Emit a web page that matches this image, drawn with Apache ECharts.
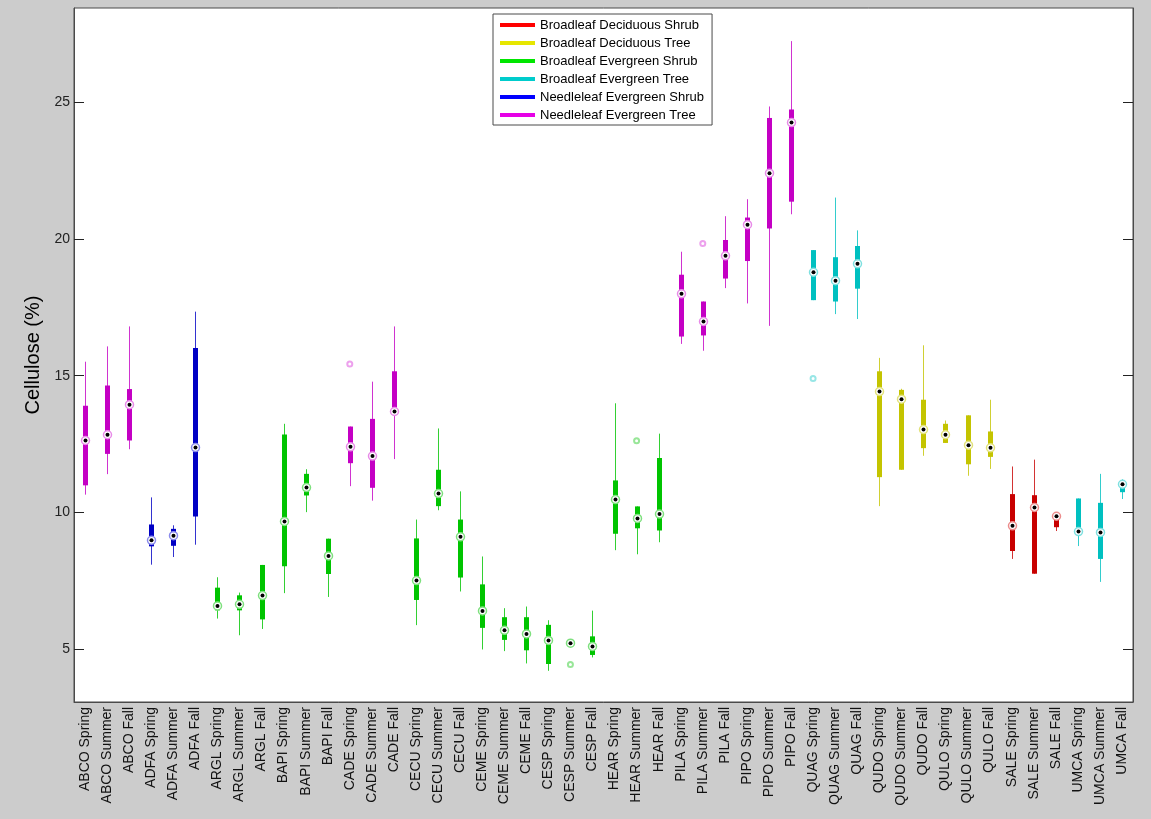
<!DOCTYPE html>
<html>
<head>
<meta charset="utf-8">
<script src="https://cdn.jsdelivr.net/npm/echarts@6/dist/echarts.min.js"></script>
<style>
  html, body { margin: 0; padding: 0; background: #cccccc; }
  #chart { width: 1151px; height: 819px; }
</style>
</head>
<body>
<div id="chart"></div>
<script>
// Species / season combinations along the x axis
const categories = [
  'ABCO Spring', 'ABCO Summer', 'ABCO Fall',
  'ADFA Spring', 'ADFA Summer', 'ADFA Fall',
  'ARGL Spring', 'ARGL Summer', 'ARGL Fall',
  'BAPI Spring', 'BAPI Summer', 'BAPI Fall',
  'CADE Spring', 'CADE Summer', 'CADE Fall',
  'CECU Spring', 'CECU Summer', 'CECU Fall',
  'CEME Spring', 'CEME Summer', 'CEME Fall',
  'CESP Spring', 'CESP Summer', 'CESP Fall',
  'HEAR Spring', 'HEAR Summer', 'HEAR Fall',
  'PILA Spring', 'PILA Summer', 'PILA Fall',
  'PIPO Spring', 'PIPO Summer', 'PIPO Fall',
  'QUAG Spring', 'QUAG Summer', 'QUAG Fall',
  'QUDO Spring', 'QUDO Summer', 'QUDO Fall',
  'QULO Spring', 'QULO Summer', 'QULO Fall',
  'SALE Spring', 'SALE Summer', 'SALE Fall',
  'UMCA Spring', 'UMCA Summer', 'UMCA Fall'
];

// Plant functional types (legend entries)
const groupNames = [
  'Broadleaf Deciduous Shrub',
  'Broadleaf Deciduous Tree',
  'Broadleaf Evergreen Shrub',
  'Broadleaf Evergreen Tree',
  'Needleleaf Evergreen Shrub',
  'Needleleaf Evergreen Tree'
];

// Functional type of each category (index into groupNames)
const groupOf = [
  5, 5, 5,  4, 4, 4,  2, 2, 2,  2, 2, 2,  5, 5, 5,  2, 2, 2,
  2, 2, 2,  2, 2, 2,  2, 2, 2,  5, 5, 5,  5, 5, 5,  3, 3, 3,
  1, 1, 1,  1, 1, 1,  0, 0, 0,  3, 3, 3
];

// Box statistics, cellulose (%)
const lowWhisker = [
  10.65, 11.40, 12.31,  8.09, 8.37, 8.82,  6.12, 5.51, 5.74,  7.05, 10.01, 6.91,
  10.96, 10.43, 11.95,  5.88, 10.08, 7.11,  4.99, 4.93, 4.48,  4.21, 5.12, 4.70,
  8.62, 8.47, 8.91,  16.16, 15.91, 18.20,  17.64, 16.82, 20.90,  17.76, 17.25, 17.07,
  10.23, 11.56, 12.07,  12.54, 11.34, 11.59,  8.30, 7.76, 9.32,  8.77, 7.46, 10.49
];
const q1 = [
  10.99, 12.14, 12.63,  8.76, 8.78, 9.85,  6.42, 6.42, 6.09,  8.03, 10.62, 7.75,
  11.80, 10.90, 13.62,  6.80, 10.23, 7.62,  5.78, 5.34, 4.96,  4.46, 5.17, 4.79,
  9.22, 9.42, 9.34,  16.43, 16.47, 18.55,  19.19, 20.38, 21.36,  17.76, 17.71, 18.18,
  11.29, 11.56, 12.35,  12.54, 11.76, 12.03,  8.59, 7.76, 9.46,  9.25, 8.30, 10.74
];
const median = [
  12.63, 12.84, 13.94,  8.98, 9.15, 12.37,  6.58, 6.64, 6.96,  9.67, 10.91, 8.41,
  12.40, 12.06, 13.69,  7.51, 10.69, 9.11,  6.40, 5.69, 5.56,  5.32, 5.22, 5.10,
  10.47, 9.78, 9.94,  17.99, 16.98, 19.38,  20.52, 22.40, 24.25,  18.78, 18.47, 19.09,
  14.42, 14.14, 13.03,  12.84, 12.46, 12.36,  9.51, 10.18, 9.86,  9.30, 9.27, 11.03
];
const q3 = [
  13.90, 14.64, 14.51,  9.56, 9.40, 16.01,  7.25, 6.97, 8.08,  12.85, 11.41, 9.04,
  13.14, 13.42, 15.16,  9.05, 11.56, 9.74,  7.37, 6.17, 6.17,  5.89, 5.30, 5.47,
  11.17, 10.22, 11.99,  18.69, 17.71, 19.96,  20.78, 24.42, 24.73,  19.59, 19.33, 19.74,
  15.16, 14.48, 14.12,  13.24, 13.55, 12.96,  10.67, 10.63, 9.95,  10.51, 10.35, 11.08
];
const highWhisker = [
  15.51, 16.07, 16.80,  10.55, 9.53, 17.34,  7.63, 7.07, 8.08,  13.24, 11.58, 9.04,
  13.14, 14.78, 16.80,  9.74, 13.07, 10.77,  8.39, 6.50, 6.56,  6.06, 5.34, 6.41,
  13.99, 10.22, 12.88,  19.53, 17.71, 20.83,  21.45, 24.84, 27.23,  19.59, 21.51, 20.31,
  15.65, 14.52, 16.11,  13.36, 13.55, 14.12,  11.68, 11.93, 9.95,  10.51, 11.41, 11.21
];

// Outliers as [category index, value]
const outliers = [
  [12, 15.43], [22, 4.44], [25, 12.62], [28, 19.83], [33, 14.90]
];

const yTicks = [5, 10, 15, 20, 25];

// Colours per functional type: legend swatch, box fill, marker ring
const legendColors = ['#ff0000', '#e6e600', '#00e600', '#00cccc', '#0000ff', '#e600e6'];
const boxColors    = ['#c80000', '#c4c400', '#00c400', '#00c0c0', '#0000c4', '#c400c4'];
const lightColors  = ['#ec8c8c', '#e2e27a', '#7ee07e', '#7ee0e0', '#8a8aec', '#e88ae8'];

function renderBox(params, api) {
  const g = params.seriesIndex;
  const x = api.value(0);
  const pLow = api.coord([x, api.value(1)]);
  const pQ1 = api.coord([x, api.value(2)]);
  const pMed = api.coord([x, api.value(3)]);
  const pQ3 = api.coord([x, api.value(4)]);
  const pHigh = api.coord([x, api.value(5)]);
  const cx = Math.round(pLow[0]) + 0.5;
  const boxW = 5;
  return {
    type: 'group',
    children: [
      {
        type: 'line',
        shape: { x1: cx, y1: pHigh[1], x2: cx, y2: pLow[1] },
        style: { stroke: boxColors[g], lineWidth: 1, opacity: 0.8 }
      },
      {
        type: 'rect',
        shape: { x: cx - boxW / 2, y: pQ3[1], width: boxW, height: Math.max(pQ1[1] - pQ3[1], 1) },
        style: { fill: boxColors[g] }
      },
      {
        type: 'circle',
        shape: { cx: cx, cy: pMed[1], r: 4 },
        style: { fill: '#ffffff', stroke: lightColors[g], lineWidth: 1.5 }
      },
      {
        type: 'circle',
        shape: { cx: cx, cy: pMed[1], r: 2 },
        style: { fill: '#000000' }
      }
    ]
  };
}

const boxSeries = groupNames.map(function (name, g) {
  const data = [];
  categories.forEach(function (c, i) {
    if (groupOf[i] === g) {
      data.push([i, lowWhisker[i], q1[i], median[i], q3[i], highWhisker[i]]);
    }
  });
  return {
    type: 'custom',
    name: name,
    itemStyle: { color: legendColors[g] },
    renderItem: renderBox,
    encode: { x: 0, y: [1, 2, 3, 4, 5] },
    data: data,
    z: 3
  };
});

const outlierSeries = {
  type: 'scatter',
  name: 'outliers',
  symbol: 'emptyCircle',
  symbolSize: 5,
  z: 4,
  data: outliers.map(function (o) {
    return {
      value: o,
      itemStyle: { color: lightColors[groupOf[o[0]]], borderWidth: 1.2 }
    };
  })
};

const font = 'Liberation Sans, Arial, sans-serif';
const chart = echarts.init(document.getElementById('chart'), null, { renderer: 'canvas' });

chart.setOption({
  backgroundColor: '#cccccc',
  animation: false,
  textStyle: { fontFamily: font },
  grid: {
    left: 74, top: 8, right: 18, bottom: 117,
    show: true, backgroundColor: '#ffffff', borderColor: '#4a4a4a', borderWidth: 1
  },
  legend: {
    data: groupNames,
    orient: 'vertical',
    left: 493, top: 14,
    padding: [2, 8, 1, 7],
    itemGap: 0,
    itemWidth: 35, itemHeight: 4,
    icon: 'rect',
    selectedMode: false,
    backgroundColor: '#ffffff',
    borderColor: '#4a4a4a', borderWidth: 1,
    textStyle: { fontFamily: font, fontSize: 13, color: '#000', lineHeight: 18 }
  },
  xAxis: {
    type: 'category',
    data: categories,
    boundaryGap: true,
    axisLine: { show: true, lineStyle: { color: '#4a4a4a' } },
    axisTick: { show: false },
    axisLabel: { rotate: 90, interval: 0, margin: 5, fontSize: 14, color: '#111', fontFamily: font },
    splitLine: { show: false }
  },
  yAxis: [
    {
      type: 'value',
      min: 3.07, max: 28.44,
      name: 'Cellulose (%)',
      nameLocation: 'middle',
      nameGap: 24,
      nameRotate: 90,
      nameTextStyle: { fontSize: 20, color: '#000', fontFamily: font },
      axisLine: { show: true, lineStyle: { color: '#4a4a4a' } },
      axisTick: { show: true, inside: true, length: 10, customValues: yTicks, lineStyle: { color: '#222' } },
      axisLabel: { customValues: yTicks, margin: 4, fontSize: 14, color: '#222', fontFamily: font },
      splitLine: { show: false }
    },
    {
      type: 'value',
      position: 'right',
      min: 3.07, max: 28.44,
      axisLine: { show: true, lineStyle: { color: '#4a4a4a' } },
      axisTick: { show: true, inside: true, length: 10, customValues: yTicks, lineStyle: { color: '#222' } },
      axisLabel: { show: false },
      splitLine: { show: false }
    }
  ],
  series: boxSeries.concat([outlierSeries])
});
</script>
</body>
</html>
